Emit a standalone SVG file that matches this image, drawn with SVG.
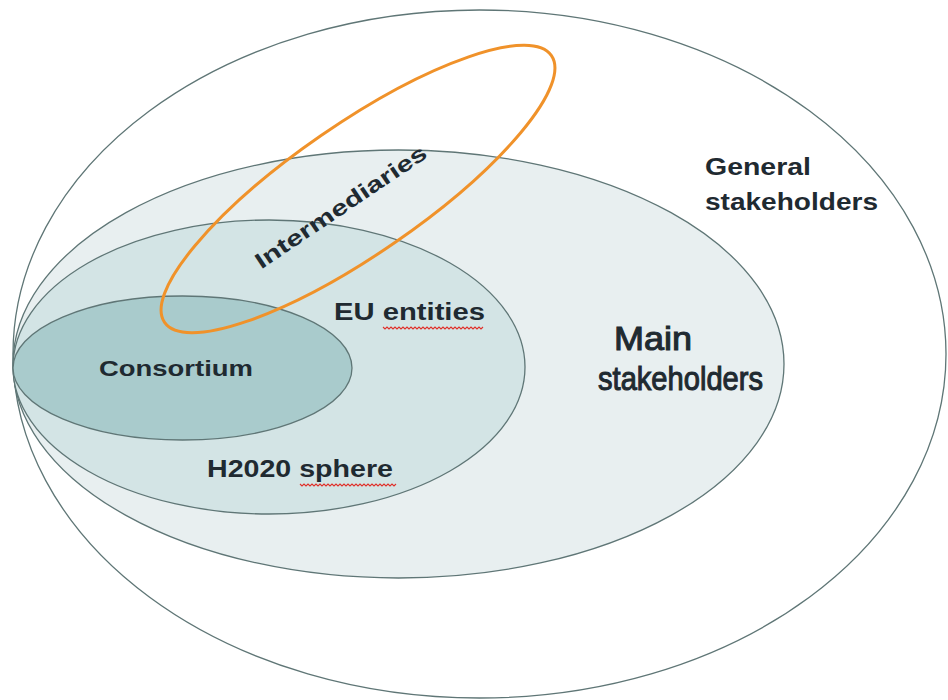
<svg xmlns="http://www.w3.org/2000/svg" width="948" height="700" viewBox="0 0 948 700">
<style>
.ring{stroke:#5f7676;stroke-width:1.3}
.lbl{font-family:"Liberation Sans",Arial,sans-serif;font-weight:bold;fill:#1f2a31}
.big{font-family:"Liberation Sans",Arial,sans-serif;font-weight:normal;fill:#1f2a31;stroke:#1f2a31;stroke-width:1.1}
.squig{fill:none;stroke:#e0302a;stroke-width:1.1}
</style>
<rect width="948" height="700" fill="#ffffff"/>
<g id="general">
<ellipse class="ring" cx="479.5" cy="354" rx="466.5" ry="344" fill="#ffffff"/>
<text class="lbl" x="705" y="175" font-size="23" textLength="106" lengthAdjust="spacingAndGlyphs">General</text>
<text class="lbl" x="705" y="210" font-size="23" textLength="173" lengthAdjust="spacingAndGlyphs">stakeholders</text>
</g>
<g id="main">
<ellipse class="ring" cx="398.5" cy="364" rx="385.5" ry="214" fill="#e8eff0"/>
<text class="big" x="614" y="350" font-size="34" textLength="78" lengthAdjust="spacingAndGlyphs">Main</text>
<text class="big" x="598" y="390" font-size="34" textLength="165" lengthAdjust="spacingAndGlyphs">stakeholders</text>
</g>
<g id="h2020">
<ellipse class="ring" cx="269" cy="367" rx="256" ry="147" fill="#d3e4e5"/>
<text class="lbl" x="334" y="320" font-size="23" textLength="151" lengthAdjust="spacingAndGlyphs">EU entities</text>
<path class="squig" d="M383 327 l2 2 l2 -2 l2 2 l2 -2 l2 2 l2 -2 l2 2 l2 -2 l2 2 l2 -2 l2 2 l2 -2 l2 2 l2 -2 l2 2 l2 -2 l2 2 l2 -2 l2 2 l2 -2 l2 2 l2 -2 l2 2 l2 -2 l2 2 l2 -2 l2 2 l2 -2 l2 2 l2 -2 l2 2 l2 -2 l2 2 l2 -2 l2 2 l2 -2 l2 2 l2 -2 l2 2 l2 -2 l2 2 l2 -2 l2 2 l2 -2 l2 2 l2 -2 l2 2 l2 -2 l2 2 l2 -2"/>
<text class="lbl" x="207" y="477" font-size="23" textLength="186" lengthAdjust="spacingAndGlyphs">H2020 sphere</text>
<path class="squig" d="M300 484 l2 2 l2 -2 l2 2 l2 -2 l2 2 l2 -2 l2 2 l2 -2 l2 2 l2 -2 l2 2 l2 -2 l2 2 l2 -2 l2 2 l2 -2 l2 2 l2 -2 l2 2 l2 -2 l2 2 l2 -2 l2 2 l2 -2 l2 2 l2 -2 l2 2 l2 -2 l2 2 l2 -2 l2 2 l2 -2 l2 2 l2 -2 l2 2 l2 -2 l2 2 l2 -2 l2 2 l2 -2 l2 2 l2 -2 l2 2 l2 -2 l2 2 l2 -2 l2 2 l2 -2"/>
</g>
<g id="consortium">
<ellipse class="ring" cx="182.5" cy="368" rx="169.5" ry="72" fill="#a9cbcc"/>
<text class="lbl" x="99" y="376" font-size="22" textLength="154" lengthAdjust="spacingAndGlyphs">Consortium</text>
</g>
<g id="intermediaries">
<ellipse cx="358" cy="189" rx="235" ry="65" transform="rotate(-34.6 358 189)" fill="none" stroke="#f0922a" stroke-width="3"/>
<text class="lbl" x="0" y="0" font-size="22" text-anchor="middle" textLength="202" lengthAdjust="spacingAndGlyphs" transform="translate(345 213) rotate(-34)">Intermediaries</text>
</g>
<g id="connectors"/>
</svg>
